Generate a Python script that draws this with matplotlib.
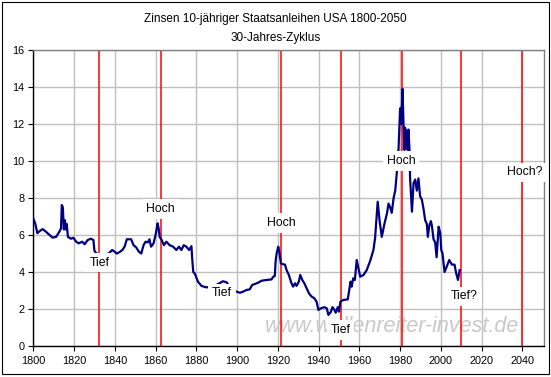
import matplotlib
matplotlib.use("Agg")
import matplotlib.pyplot as plt
from matplotlib.patches import Rectangle
import numpy as np

plt.rcParams['font.family'] = ['Liberation Sans', 'DejaVu Sans']

# yields (fractional years)
years = [1800, 1801, 1802, 1803, 1804.6, 1806.2, 1808, 1809.5, 1811.2, 1812.8,
         1813.6, 1814, 1814.5, 1815, 1815.5, 1816, 1816.4, 1817, 1818.5, 1819.7,
         1821, 1822.3, 1824, 1825.2, 1826.7, 1828.3, 1829.5, 1830, 1831, 1834,
         1837, 1838.7, 1839.9, 1841, 1842.4, 1843.7, 1844.8, 1845.9, 1848, 1849.2,
         1850.5, 1851.8, 1853, 1854.1, 1855.1, 1856.2, 1857, 1857.8, 1859, 1860,
         1861, 1861.5, 1862, 1863, 1864.1, 1865.3, 1866.9, 1868.6, 1870.2, 1871.5,
         1872.7, 1873.8, 1875.1, 1876.5, 1877.6, 1878, 1878.5, 1879.2, 1880.8, 1882.5,
         1884.9, 1887, 1889, 1891.5, 1893, 1894.8, 1897, 1899.7, 1901.4, 1903,
         1904.6, 1906.2, 1907.4, 1908.7, 1910.3, 1912, 1914.5, 1916.9, 1917.8, 1918.5,
         1918.9, 1919.4, 1920.2, 1920.7, 1921.5, 1922.2, 1923.5, 1924.3, 1925.4, 1926.7,
         1927.5, 1928.4, 1929.2, 1930.3, 1931, 1932, 1933, 1934.1, 1935.3, 1936.6,
         1937.9, 1939, 1939.9, 1941.2, 1942.8, 1944, 1944.8, 1946.1, 1946.8, 1947.8,
         1948.4, 1949.4, 1950, 1950.7, 1952.2, 1954.3, 1954.9, 1955.7, 1956.2, 1957,
         1957.8, 1958.7, 1960.4, 1962, 1963.6, 1965.3, 1966.9, 1967.7, 1969, 1969.9,
         1971, 1972.3, 1973.6, 1974.3, 1975.1, 1975.9, 1976.8, 1977.6, 1978.4, 1979.2,
         1979.5, 1980, 1980.5, 1981.2, 1981.6, 1982.1, 1982.4, 1983.2, 1983.7, 1984.1,
         1984.6, 1984.9, 1985.8, 1986.6, 1987.4, 1988.2, 1989, 1989.8, 1990.7, 1991.5,
         1992.3, 1993.1, 1993.6, 1994.3, 1995.1, 1995.6, 1996.4, 1997.2, 1997.9, 1998.9,
         1999.7, 2000.2, 2000.8, 2001.8, 2002.9, 2004.1, 2005.4, 2006.7, 2007.5, 2008.4,
         2009.2]
yields = [6.9, 6.6, 6.1, 6.2, 6.32, 6.18, 6.0, 5.86, 5.9, 6.18,
          6.36, 7.62, 7.5, 6.3, 6.8, 6.3, 6.6, 5.9, 5.8, 5.85,
          5.64, 5.55, 5.64, 5.5, 5.73, 5.8, 5.73, 5.15, 5.0, 4.9,
          5.0, 5.19, 5.1, 5.0, 5.08, 5.19, 5.37, 5.77, 5.77, 5.45,
          5.33, 5.1, 5.0, 5.45, 5.64, 5.6, 5.77, 5.37, 5.55, 6.0,
          6.63, 6.36, 5.9, 5.73, 5.45, 5.64, 5.45, 5.37, 5.19, 5.37,
          5.19, 5.45, 5.37, 5.19, 5.4, 4.7, 4.0, 3.93, 3.48, 3.25,
          3.17, 3.2, 3.25, 3.4, 3.5, 3.45, 3.1, 2.94, 2.88, 2.94,
          3.03, 3.06, 3.3, 3.35, 3.42, 3.53, 3.57, 3.6, 3.75, 3.78,
          4.56, 5.0, 5.37, 5.1, 4.47, 4.43, 4.4, 4.1, 3.84, 3.39,
          3.21, 3.39, 3.25, 3.48, 3.84, 3.57, 3.39, 3.12, 2.84, 2.67,
          2.58, 2.4, 1.95, 2.04, 2.1, 2.04, 1.68, 1.86, 2.1, 1.95,
          1.8, 2.1, 1.86, 2.4, 2.49, 2.52, 2.94, 3.48, 3.21, 3.66,
          3.57, 4.65, 3.75, 3.84, 4.1, 4.6, 5.19, 5.82, 7.8, 6.8,
          5.9, 6.6, 7.2, 7.7, 7.5, 7.2, 8.0, 8.4, 9.4, 10.6,
          11.4, 12.85, 12.0, 13.9, 12.2, 10.6, 11.8, 11.5, 10.6, 11.7,
          10.6, 9.06, 7.26, 8.8, 9.0, 8.4, 9.06, 8.1, 7.9, 7.4,
          6.8, 6.6, 5.9, 6.5, 6.75, 6.5, 5.77, 5.6, 4.8, 6.45,
          6.1, 5.19, 5.0, 4.0, 4.3, 4.65, 4.4, 4.4, 3.93, 3.57,
          4.1]

# cycle markers
cycle_years = [1832.4, 1862.5, 1921.4, 1950.8, 1980.8, 2010.1, 2040]
label_texts = ["Tief", "Hoch", "Tief", "Hoch", "Tief", "Hoch", "Tief?", "Hoch?"]
label_x = [1832.5, 1862.5, 1892.6, 1921.6, 1950.7, 1980.5, 2011.6, 2041.3]
label_y = [4.5, 7.4, 2.85, 6.65, 0.86, 10.0, 2.68, 9.38]

fig = plt.figure(figsize=(5.51, 3.77), dpi=100)
ax = fig.add_axes([0.0604, 0.0822, 0.9269, 0.7851])

ax.set_xlim(1800, 2050.6)
ax.set_ylim(0, 16)
ax.set_xticks(np.arange(1800, 2041, 20))
ax.set_yticks(np.arange(0, 17, 2))
ax.grid(True, color='#c0c0c0', linewidth=1.0, zorder=0)
ax.set_axisbelow(True)
ax.tick_params(labelsize=7.8, length=3.5, width=0.8, color='black')
ax.tick_params(axis='x', pad=4)
ax.tick_params(axis='y', pad=3)

for s in ['left', 'bottom']:
    ax.spines[s].set_linewidth(1.0)
    ax.spines[s].set_color('black')
for s in ['top', 'right']:
    ax.spines[s].set_linewidth(1.0)
    ax.spines[s].set_color('#808080')

ax.text(1913.8, 0.78, "www.wellenreiter-invest.de", fontsize=15.5, style='italic',
        color='#c8c8c8', zorder=1.5)

for cy in cycle_years:
    ax.axvline(cy, color='red', linewidth=1.1, zorder=2)

ax.plot(years, yields, color='#000080', linewidth=1.6, zorder=3)

for t, lx, ly in zip(label_texts, label_x, label_y):
    ax.text(lx, ly, t, fontsize=8.8, ha='center', va='center', zorder=10,
            bbox=dict(boxstyle='square,pad=0.3', fc='white', ec='none'))

fig.text(0.5, 0.950, "Zinsen 10-jähriger Staatsanleihen USA 1800-2050",
         ha='center', va='center', fontsize=8.5)
fig.text(0.5, 0.900, "30-Jahres-Zyklus", ha='center', va='center', fontsize=8.5)

fig.patches.append(Rectangle((1.5 / 551, 3.5 / 377), 547.5 / 551, 372 / 377,
                             transform=fig.transFigure, fill=False,
                             edgecolor='black', linewidth=0.8))

plt.savefig('out.png', dpi=100)
